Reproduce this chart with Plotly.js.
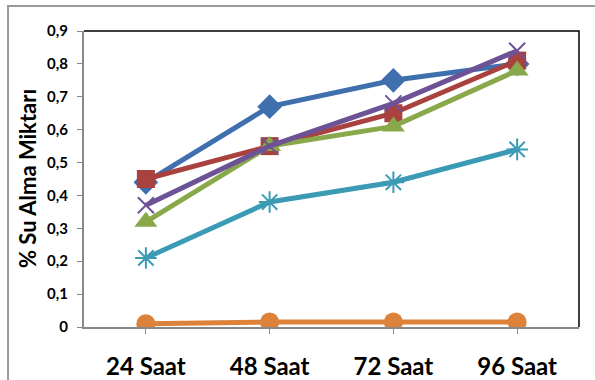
<!DOCTYPE html>
<html>
<head>
<meta charset="utf-8">
<script src="https://cdn.plot.ly/plotly-3.0.1.min.js"></script>
<style>
  html, body { margin: 0; padding: 0; background: #fff; }
  #chart { width: 595px; height: 380px; }
</style>
</head>
<body>
<div id="chart"></div>
<script>
// Time points (hours) on the category axis
const categories = ['24 Saat', '48 Saat', '72 Saat', '96 Saat'];

// Water uptake per sample series
const seriesBlue   = [0.44, 0.67, 0.75, 0.80];
const seriesRed    = [0.45, 0.55, 0.65, 0.81];
const seriesGreen  = [0.32, 0.55, 0.61, 0.78];
const seriesPurple = [0.37, 0.55, 0.68, 0.84];
const seriesAqua   = [0.21, 0.38, 0.44, 0.54];
const seriesOrange = [0.01, 0.015, 0.015, 0.015];

// Y axis ticks with comma decimal labels
const yTickValues = [0, 0.1, 0.2, 0.3, 0.4, 0.5, 0.6, 0.7, 0.8, 0.9];
const yTickLabels = ['0', '0,1', '0,2', '0,3', '0,4', '0,5', '0,6', '0,7', '0,8', '0,9'];

const yTitle = '% Su Alma Miktarı';

function series(y, color, symbol, size, lineWidth) {
  const marker = { color: color, symbol: symbol, size: size };
  if (lineWidth) marker.line = { color: color, width: lineWidth };
  return {
    type: 'scatter',
    mode: 'lines+markers',
    x: categories,
    y: y,
    line: { color: color, width: 5 },
    marker: marker,
    showlegend: false,
    hoverinfo: 'x+y'
  };
}

const traces = [
  series(seriesBlue, '#3F6FAD', 'diamond', 19),
  series(seriesRed, '#A9423F', 'square', 18),
  series(seriesGreen, '#88A84A', 'triangle-up', 20),
  series(seriesPurple, '#6E5296', 'x-thin-open', 16, 2),
  series(seriesAqua, '#3B9BB5', 'asterisk-open', 18, 2),
  series(seriesOrange, '#DD823B', 'circle', 19)
];

const font = 'Lato, "Open Sans", "DejaVu Sans", sans-serif';

const layout = {
  width: 595,
  height: 380,
  margin: { l: 84, r: 16, t: 31, b: 53, pad: 0 },
  paper_bgcolor: '#ffffff',
  plot_bgcolor: '#ffffff',
  font: { family: font, color: '#000' },
  xaxis: {
    type: 'category',
    range: [-0.5, 3.5],
    showgrid: false,
    zeroline: false,
    showline: true,
    linecolor: '#888888',
    linewidth: 2,
    ticks: 'outside',
    ticklen: 5,
    tickwidth: 1,
    tickcolor: '#888888',
    tickfont: { family: font, size: 24, color: '#000', weight: 'bold' },
    ticklabelstandoff: 12,
    fixedrange: true
  },
  yaxis: {
    range: [0, 0.9],
    tickvals: yTickValues,
    ticktext: yTickLabels,
    showgrid: false,
    zeroline: false,
    showline: true,
    linecolor: '#888888',
    linewidth: 2,
    ticks: 'outside',
    ticklen: 5,
    tickwidth: 1,
    tickcolor: '#888888',
    tickfont: { family: font, size: 15, color: '#000', weight: 'bold' },
    ticklabelstandoff: 6,
    fixedrange: true
  },
  annotations: [
    // y axis title, rotated
    { text: yTitle, xref: 'paper', yref: 'paper', x: -0.1151, y: 0.5,
      xanchor: 'center', yanchor: 'middle', textangle: -90, showarrow: false,
      font: { family: font, size: 22, color: '#000', weight: 'bold' } }
  ],
  shapes: [
    // plot area border (top and right edges)
    { type: 'path', xref: 'paper', yref: 'paper',
      path: 'M 0 1 L 1 1 L 1 0', line: { color: '#000', width: 1.5 }, layer: 'below' },
    // outer chart frame
    { type: 'path', xref: 'paper', yref: 'paper',
      path: 'M -0.1535 -0.3 L -0.1535 1.0845 L 1.1 1.0845', line: { color: '#9a9a9a', width: 2 } }
  ]
};

Plotly.newPlot('chart', traces, layout, { displayModeBar: false, staticPlot: true });
</script>
</body>
</html>
